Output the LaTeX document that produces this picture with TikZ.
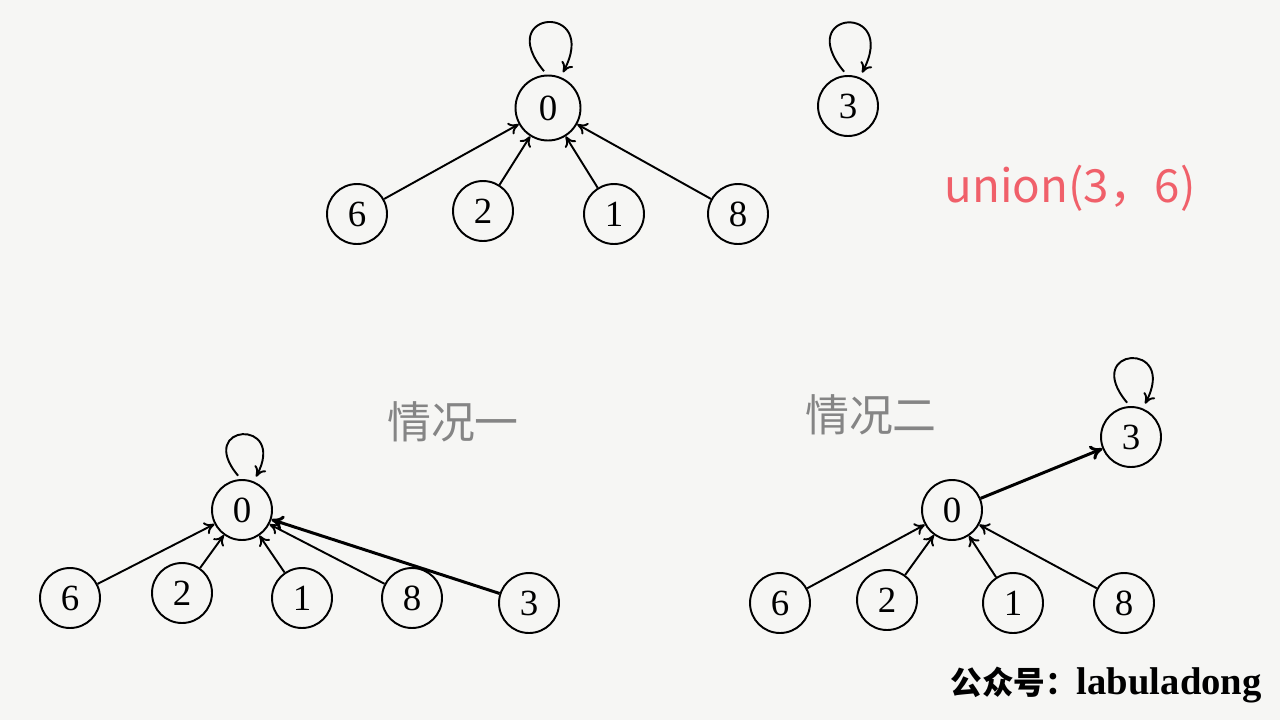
\documentclass[tikz,border=0pt]{standalone}
\usepackage{fontspec}
\newfontfamily\cjk{Noto Sans CJK SC}
\newfontfamily\wmserif{Liberation Serif}
\usetikzlibrary{arrows.meta, positioning}
\definecolor{ufPaper}{HTML}{F6F6F4}
\definecolor{ufRed}{HTML}{F0606A}
\definecolor{ufGrey}{HTML}{858585}
\tikzset{
  uset/.style      = {circle, draw=black, line width=1.1pt, minimum size=1.2cm,
                      inner sep=0pt, font=\wmserif\fontsize{21}{24}\selectfont},
  parent/.style    = {-{To[length=2mm,width=2.6mm]}, line width=1.1pt},
  newparent/.style = {-{To[length=2.4mm,width=3mm]}, line width=1.7pt},
  selfloop/.style  = {-{To[length=2mm,width=2.6mm]}, line width=1.1pt,
                      out=130, in=62, distance=1.7cm, shorten <=2.5pt, shorten >=3pt},
  caselbl/.style   = {font=\cjk\fontsize{25}{28}\selectfont, ufGrey},
}

\begin{document}
\begin{tikzpicture}[x=0.02cm,y=-0.02cm]
  \fill[ufPaper] (0,0) rectangle (1280,720);
  \useasboundingbox (0,0) rectangle (1280,720);

  % before union
  \node[uset, minimum size=1.3cm] (t0) at (548,108) {0};
  \node[uset] (t3) at (848,106) {3};
  \node[uset] (t6) at (357,214) {6};
  \node[uset] (t2) at (483,211) {2};
  \node[uset] (t1) at (614,214) {1};
  \node[uset] (t8) at (738,214) {8};
  \foreach \c in {t6,t2,t1,t8}
    \draw[parent] (\c) -- (t0);
  \draw[selfloop] (t0.92) to (t0.68);
  \draw[selfloop] (t3.92) to (t3.68);
  \node[font=\cjk\fontsize{26}{30}\selectfont, ufRed] (op) at (1070,188) {union(3，6)};

  % case one
  \node[caselbl] (c1) at (453,422) {情况一};
  \node[uset] (a0) at (242,510) {0};
  \node[uset] (a6) at (70,598) {6};
  \node[uset] (a2) at (182,593) {2};
  \node[uset] (a1) at (302,598) {1};
  \node[uset] (a8) at (412,598) {8};
  \node[uset] (a3) at (529,603) {3};
  \foreach \c in {a6,a2,a1,a8}
    \draw[parent] (\c) -- (a0);
  \draw[newparent] (a3) -- (a0);
  \draw[selfloop, distance=1.45cm] (a0.92) to (a0.68);

  % case two
  \node[caselbl] (c2) at (871,415) {情况二};
  \node[uset] (b0) at (952,510) {0};
  \node[uset] (b3) at (1131,437) {3};
  \node[uset] (b6) at (780,603) {6};
  \node[uset] (b2) at (887,600) {2};
  \node[uset] (b1) at (1013,603) {1};
  \node[uset] (b8) at (1124,603) {8};
  \foreach \c in {b6,b2,b1,b8}
    \draw[parent] (\c) -- (b0);
  \draw[newparent] (b0) -- (b3);
  \draw[selfloop, distance=1.55cm] (b3.92) to (b3.68);

  \node[anchor=east, inner sep=0pt] (wm) at (1262,685)
    {{\cjk\bfseries\fontsize{18}{22}\selectfont 公众号：}{\wmserif\bfseries\fontsize{22}{26}\selectfont labuladong}};
\end{tikzpicture}
\end{document}
